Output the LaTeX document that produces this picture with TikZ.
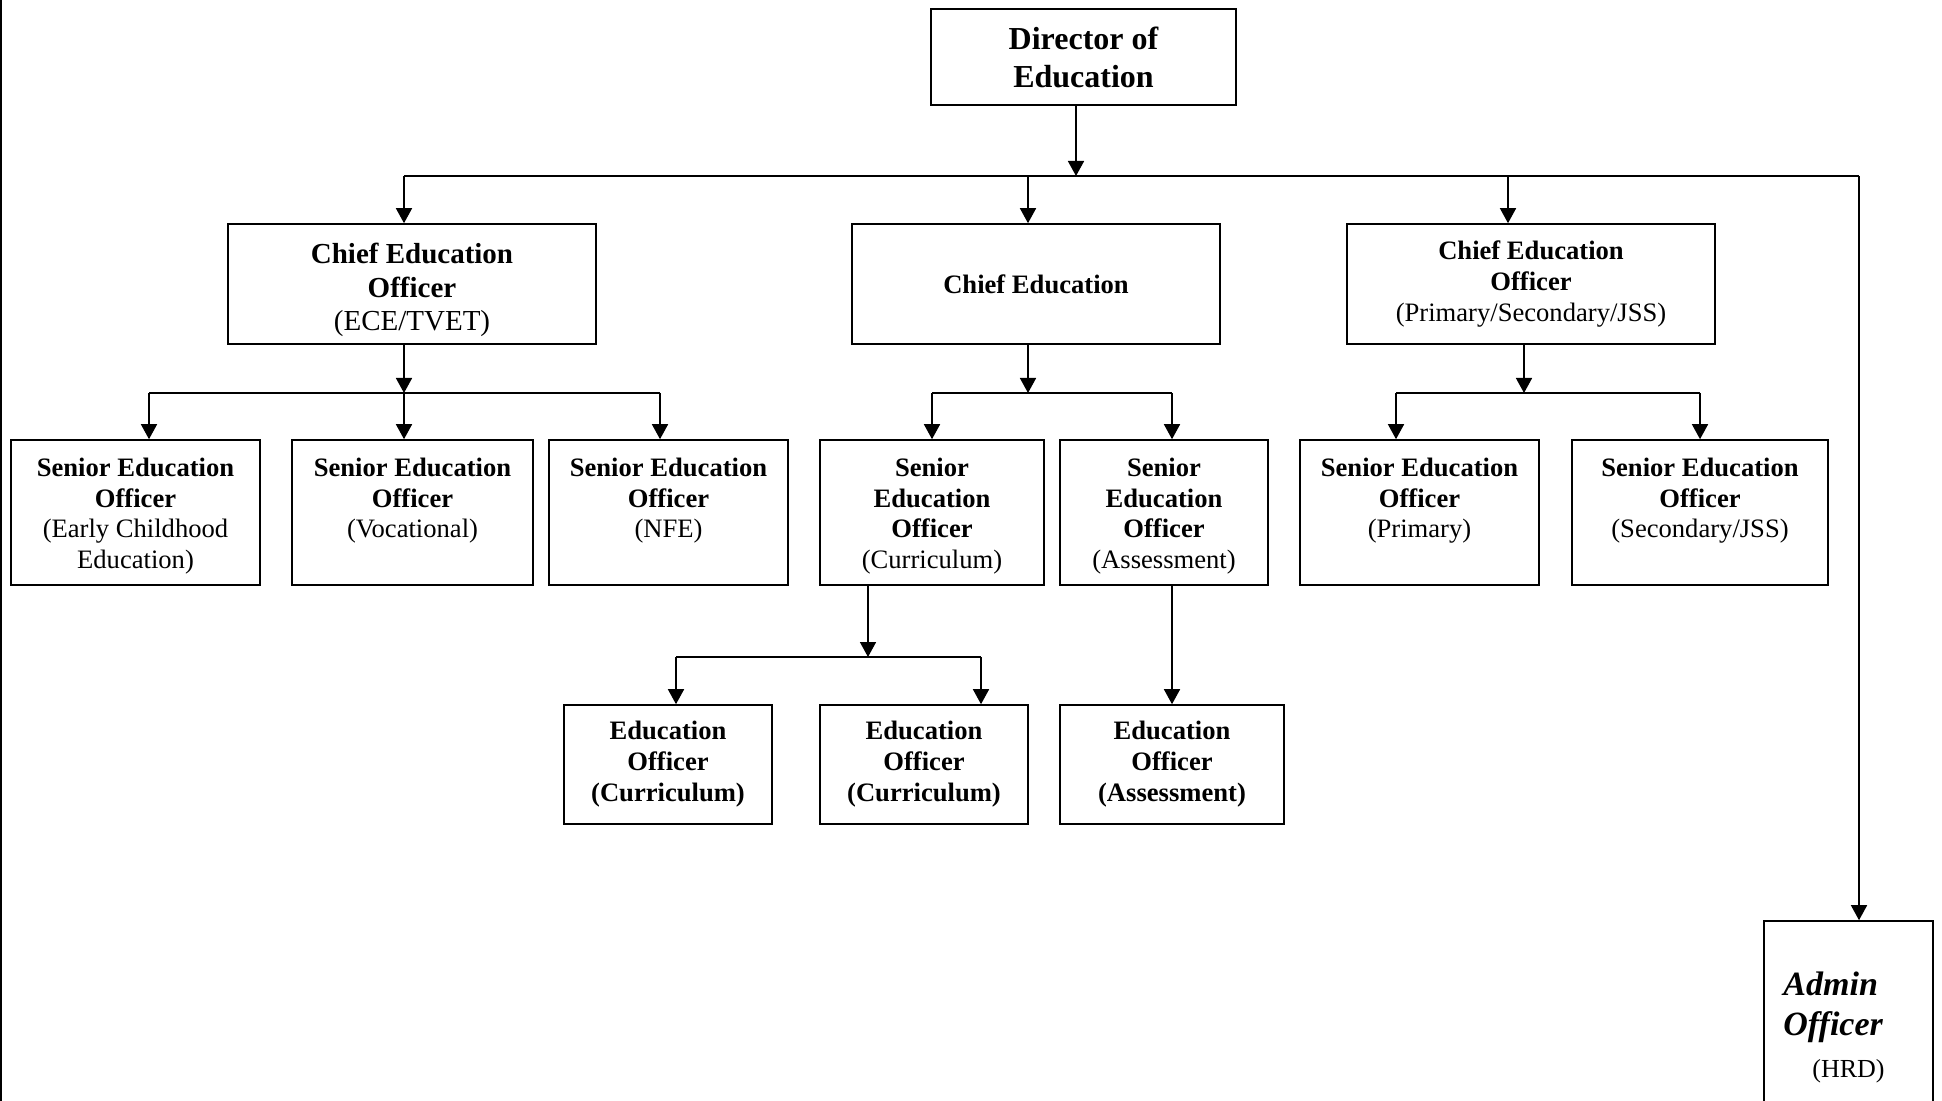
\documentclass[tikz,border=0pt]{standalone}
\usepackage{fontspec}
\setmainfont{Liberation Serif}
\usetikzlibrary{arrows.meta}
\begin{document}
\begin{tikzpicture}[x=0.5pt,y=-0.5pt,
  obox/.style={draw, line width=0.8pt, inner sep=0pt, align=center},
  ln/.style={line width=0.8pt},
  arr/.style={line width=0.8pt, -{Triangle[width=8pt,length=7.5pt]}},
  seotxt/.style={anchor=north, inner sep=0pt, align=center, font=\fontsize{13.3}{15.3}\selectfont},
  eotxt/.style={font=\fontsize{13.3}{15.5}\selectfont\bfseries}
]
\useasboundingbox (0,0) rectangle (1942,1101);
\fill[white] (0,0) rectangle (1942,1101);
\clip (0,0) rectangle (1942,1101);
\draw[line width=0.8pt] (0.8,0) -- (0.8,1101);

% Director
\node[obox, minimum width=152.5pt, minimum height=48pt, font=\fontsize{16}{19}\selectfont\bfseries] (dir) at (1083.5,57) {Director of\\Education};

% Chiefs
\node[obox, minimum width=184pt, minimum height=60pt] (cl) at (412,284) {};
\node[inner sep=0pt, align=center, font=\fontsize{14.5}{16.75}\selectfont] (clt) at ([yshift=-3pt]cl.center) {\textbf{Chief Education}\\\textbf{Officer}\\(ECE/TVET)};
\node[obox, minimum width=184pt, minimum height=60pt, font=\fontsize{13.3}{15.5}\selectfont\bfseries] (cm) at (1036,284) {Chief Education};
\node[obox, minimum width=184pt, minimum height=60pt, font=\fontsize{13.3}{15.5}\selectfont] (cr) at (1531,284) {\textbf{Chief Education}\\\textbf{Officer}\\(Primary/Secondary/JSS)};

% Senior Education Officers
\node[obox, minimum width=124.5pt, minimum height=72.5pt] (s1) at (135.5,512.5) {};
\node[obox, minimum width=120.5pt, minimum height=72.5pt] (s2) at (412.5,512.5) {};
\node[obox, minimum width=119.5pt, minimum height=72.5pt] (s3) at (668.5,512.5) {};
\node[obox, minimum width=112pt, minimum height=72.5pt] (sc) at (932,512.5) {};
\node[obox, minimum width=104pt, minimum height=72.5pt] (sa) at (1164,512.5) {};
\node[obox, minimum width=119.5pt, minimum height=72.5pt] (sp) at (1419.5,512.5) {};
\node[obox, minimum width=128pt, minimum height=72.5pt] (ss) at (1700,512.5) {};

\node[seotxt] (s1t) at ([yshift=-9.3pt]s1.north) {\textbf{Senior Education}\\\textbf{Officer}\\(Early Childhood\\Education)};
\node[seotxt] (s2t) at ([yshift=-9.3pt]s2.north) {\textbf{Senior Education}\\\textbf{Officer}\\(Vocational)};
\node[seotxt] (s3t) at ([yshift=-9.3pt]s3.north) {\textbf{Senior Education}\\\textbf{Officer}\\(NFE)};
\node[seotxt] (sct) at ([yshift=-9.3pt]sc.north) {\textbf{Senior}\\\textbf{Education}\\\textbf{Officer}\\(Curriculum)};
\node[seotxt] (sat) at ([yshift=-9.3pt]sa.north) {\textbf{Senior}\\\textbf{Education}\\\textbf{Officer}\\(Assessment)};
\node[seotxt] (spt) at ([yshift=-9.3pt]sp.north) {\textbf{Senior Education}\\\textbf{Officer}\\(Primary)};
\node[seotxt] (sst) at ([yshift=-9.3pt]ss.north) {\textbf{Senior Education}\\\textbf{Officer}\\(Secondary/JSS)};

% Education Officers
\node[obox, eotxt, minimum width=104pt, minimum height=59.5pt] (e1) at (668,764.5) {Education\\Officer\\(Curriculum)};
\node[obox, eotxt, minimum width=104pt, minimum height=59.5pt] (e2) at (924,764.5) {Education\\Officer\\(Curriculum)};
\node[obox, eotxt, minimum width=112pt, minimum height=59.5pt] (e3) at (1172,764.5) {Education\\Officer\\(Assessment)};

% Admin Officer
\node[obox, minimum width=84.5pt, minimum height=109.5pt] (adm) at (1848.5,1030.5) {};
\node[anchor=north west, inner sep=0pt, align=left, font=\fontsize{17}{20}\selectfont\bfseries\itshape] (admt) at (1783,971) {Admin\\Officer};
\node[anchor=base west, inner sep=0pt, font=\fontsize{13}{15}\selectfont] (adms) at (1812,1077) {(HRD)};

% Level 1 connectors
\coordinate (jd) at (1076,176);
\coordinate (kL) at (404,176);
\coordinate (kM) at (1028,176);
\coordinate (kR) at (1508,176);
\coordinate (kA) at (1859,176);
\draw[arr] (dir.south -| jd) -- (jd);
\draw[ln] (kL) -- (kA);
\draw[arr] (kL) -- (kL |- cl.north);
\draw[arr] (kM) -- (kM |- cm.north);
\draw[arr] (kR) -- (kR |- cr.north);
\draw[arr] (kA) -- (kA |- adm.north);

% Level 2 connectors
\coordinate (jl) at (404,393);
\coordinate (l1) at (149,393);
\coordinate (l3) at (660,393);
\draw[arr] (cl.south -| jl) -- (jl);
\draw[ln] (l1) -- (l3);
\draw[arr] (l1) -- (l1 |- s1.north);
\draw[arr] (jl) -- (jl |- s2.north);
\draw[arr] (l3) -- (l3 |- s3.north);

\coordinate (jm) at (1028,393);
\coordinate (m1) at (932,393);
\coordinate (m2) at (1172,393);
\draw[arr] (cm.south -| jm) -- (jm);
\draw[ln] (m1) -- (m2);
\draw[arr] (m1) -- (m1 |- sc.north);
\draw[arr] (m2) -- (m2 |- sa.north);

\coordinate (jr) at (1524,393);
\coordinate (r1) at (1396,393);
\coordinate (r2) at (1700,393);
\draw[arr] (cr.south -| jr) -- (jr);
\draw[ln] (r1) -- (r2);
\draw[arr] (r1) -- (r1 |- sp.north);
\draw[arr] (r2) -- (r2 |- ss.north);

% Level 3 connectors
\coordinate (jc) at (868,657);
\coordinate (c1) at (676,657);
\coordinate (c2) at (981,657);
\draw[arr] (sc.south -| jc) -- (jc);
\draw[ln] (c1) -- (c2);
\draw[arr] (c1) -- (c1 |- e1.north);
\draw[arr] (c2) -- (c2 |- e2.north);
\draw[arr] (e3.north |- sa.south) -- (e3.north);
\end{tikzpicture}
\end{document}
